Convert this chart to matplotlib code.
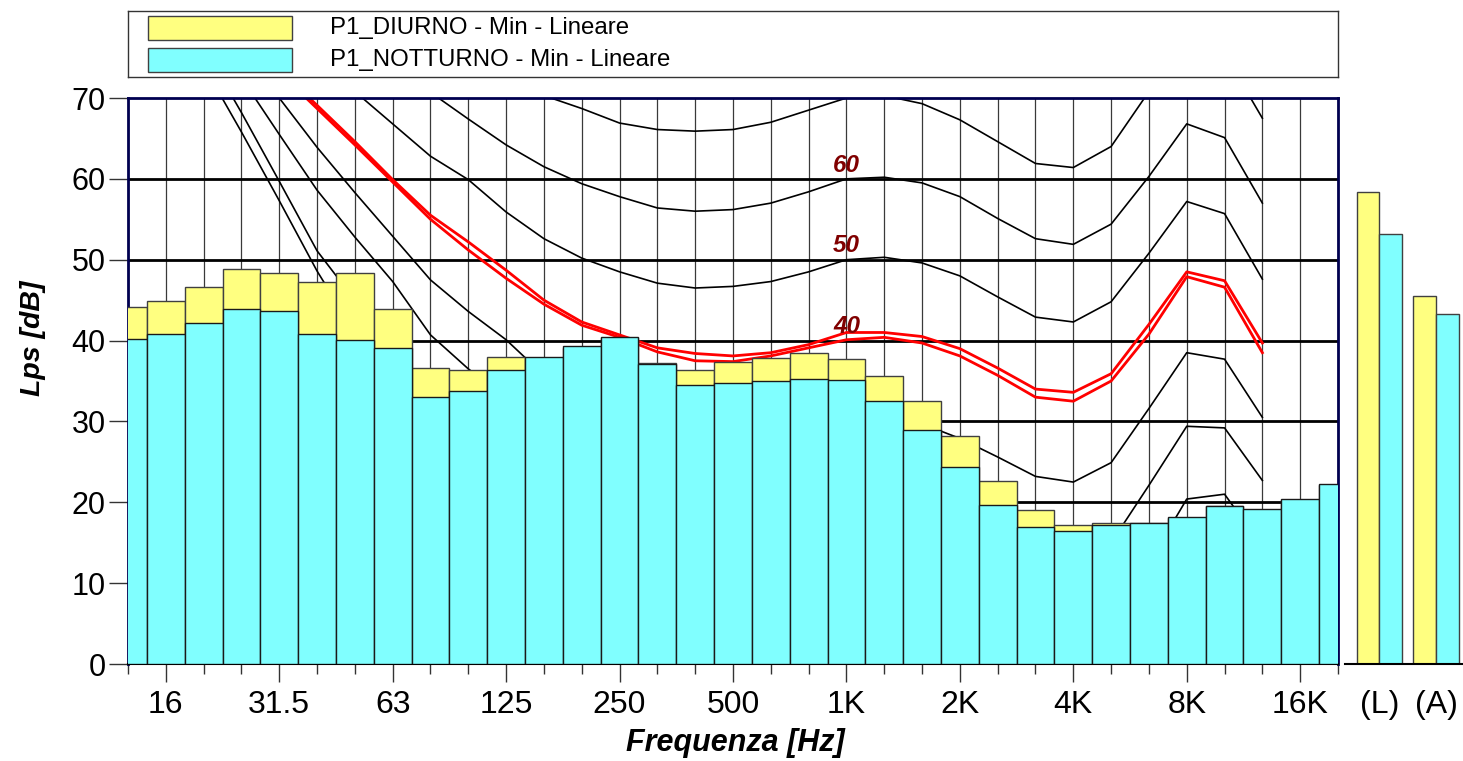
import numpy as np
import matplotlib
matplotlib.use('Agg')
import matplotlib.pyplot as plt
from matplotlib.patches import Rectangle
from matplotlib.ticker import NullFormatter

plt.rcParams['font.family'] = ['Liberation Sans', 'DejaVu Sans']

# Bande di terzo d'ottava 12.5 Hz - 20 kHz
bande = ['12.5', '16', '20', '25', '31.5', '40', '50', '63', '80', '100', '125', '160',
         '200', '250', '315', '400', '500', '630', '800', '1K', '1.25K', '1.6K', '2K',
         '2.5K', '3.15K', '4K', '5K', '6.3K', '8K', '10K', '12.5K', '16K', '20K']
freq = 10 ** (np.arange(11, 44) / 10)

# Livelli minimi per banda [dB]
diurno = [44.2, 44.9, 46.6, 48.9, 48.3, 47.3, 48.4, 43.9, 36.6, 36.3, 38.0, 37.8,
          39.1, 40.3, 37.2, 36.4, 37.3, 37.8, 38.5, 37.7, 35.6, 32.5, 28.2,
          22.6, 19.0, 17.2, 17.4, 17.4, 18.1, 19.5, 19.1, 20.3, 22.1]
notturno = [40.2, 40.8, 42.2, 43.9, 43.7, 40.8, 40.1, 39.1, 33.0, 33.8, 36.3, 38.0,
            39.3, 40.5, 37.1, 34.5, 34.8, 35.0, 35.3, 35.1, 32.5, 28.9, 24.4,
            19.7, 16.9, 16.5, 17.2, 17.5, 18.2, 19.6, 19.2, 20.4, 22.2]

# Livelli globali Lineare (L) e ponderato A
globali = ['(L)', '(A)']
glob_diurno = [58.4, 45.5]
glob_notturno = [53.2, 43.3]

# Isofoniche, 20 Hz - 12.5 kHz (nan = tratto nascosto dalle barre)
nan = np.nan
freq_iso = freq[2:31]
iso_soglia = [74.0, 65.8, 57.3, 48.6, 41.0] + [nan] * 24
iso_10 = [76.3, 68.2, 59.7, 51.1, 45.0] + [nan] * 20 + [12.5, 20.4, 21.0, 14.5]
iso_20 = [nan, 72.5, 65.5, 58.6, 52.8, 47.3, 40.7, 36.5, 33.0] + [nan] * 15 + \
         [15.0, 22.1, 29.4, 29.2, 22.7]
iso_30 = [nan, 76.0, 70.0, 63.9, 58.3, 52.9, 47.5, 43.6, 40.1, 35.7] + [nan] * 9 + \
         [29.7, 27.9, 25.6, 23.2, 22.5, 24.9, 31.6, 38.5, 37.7, 30.5]
iso_40a = [nan, nan, 73.5, 69.1, 64.6, 59.9, 55.5, 52.2, 48.7, 45.0, 42.3, 40.7, 39.1,
           38.4, 38.1, 38.5, 39.5, 41.0, 41.0, 40.5, 39.0, 36.6, 34.0, 33.6, 35.9,
           42.0, 48.5, 47.4, 39.7]
iso_40b = [nan, nan, 73.2, 68.7, 64.2, 59.6, 55.0, 51.2, 47.7, 44.5, 41.9, 40.4, 38.6,
           37.5, 37.4, 38.1, 39.1, 40.1, 40.4, 39.7, 38.1, 35.7, 33.0, 32.5, 35.0,
           40.8, 47.9, 46.6, 38.5]
iso_50 = [nan, nan, nan, 75.0, 70.8, 66.8, 62.8, 59.9, 55.9, 52.6, 50.2, 48.5, 47.1,
          46.5, 46.7, 47.3, 48.5, 50.0, 50.3, 49.6, 48.0, 45.4, 42.9, 42.3, 44.8,
          50.8, 57.2, 55.7, 47.6]
iso_60 = [nan, nan, nan, nan, nan, 75.0, 70.7, 67.4, 64.2, 61.5, 59.4, 57.8, 56.4,
          56.0, 56.2, 57.0, 58.4, 60.0, 60.2, 59.5, 57.8, 55.1, 52.6, 51.9, 54.4,
          60.3, 66.8, 65.1, 57.0]
iso_70 = [nan, nan, nan, nan, nan, nan, nan, nan, 73.5, 70.3, 68.7, 66.9, 66.1,
          65.9, 66.1, 67.0, 68.5, 70.0, 70.3, 69.3, 67.3, 64.6, 61.9, 61.4, 64.0,
          70.8, 76.5, 75.5, 67.5]
etichette_phon = [40, 50, 60]

W, H = 1463, 761
fig = plt.figure(figsize=(W / 100, H / 100), dpi=100)
ax = fig.add_axes([128 / W, 1 - 664 / H, 1210 / W, 566 / H])
ax.set_xscale('log')
ax.set_xlim(freq[0], freq[-1])
ax.set_ylim(0, 70)

# griglia
for f in freq:
    ax.axvline(f, color='#3a3a3a', lw=0.9, zorder=1)
for y in range(10, 70, 10):
    ax.axhline(y, color='black', lw=2, zorder=1)

# isofoniche
for curva in [iso_soglia, iso_10, iso_20, iso_30, iso_50, iso_60, iso_70]:
    ax.plot(freq_iso, curva, color='black', lw=1.2, zorder=2)
for curva in [iso_40a, iso_40b]:
    ax.plot(freq_iso, curva, color='#FF0000', lw=2.0, zorder=2)

# barre terzi d'ottava (notturno sopra diurno)
sx = freq * 10 ** -0.05
larg = freq * (10 ** 0.05 - 10 ** -0.05)
ax.bar(sx, diurno, width=larg, align='edge', color='#FFFF80', edgecolor='#404040', lw=1, zorder=3)
ax.bar(sx, notturno, width=larg, align='edge', color='#80FFFF', edgecolor='#1a1a1a', lw=1, zorder=4)

for p in etichette_phon:
    ax.text(1000, p + 0.9, str(p), color='#800000', fontsize=17.5, fontweight='bold',
            fontstyle='italic', ha='center', va='baseline', zorder=5)

ax.set_xticks(freq[1::3], labels=bande[1::3])
ax.set_xticks(freq, minor=True)
ax.xaxis.set_minor_formatter(NullFormatter())
ax.set_yticks(range(0, 71, 10))
ax.tick_params(axis='x', which='major', length=13, width=1, color='#333333', labelsize=23, pad=6)
ax.tick_params(axis='x', which='minor', length=7, width=1, color='#333333')
ax.tick_params(axis='y', length=14, width=1, color='#333333', labelsize=22, pad=2)
for lato in ['left', 'top', 'right']:
    ax.spines[lato].set_color('#000050')
    ax.spines[lato].set_linewidth(2)
ax.spines['bottom'].set_linewidth(1.5)

fig.text(33 / W, 1 - 338 / H, 'Lps [dB]', rotation=90, ha='center', va='center',
         fontsize=20.5, fontweight='bold', fontstyle='italic')
fig.text(735 / W, 1 - 743 / H, 'Frequenza [Hz]', ha='center', va='center',
         fontsize=22, fontweight='bold', fontstyle='italic')

# livelli globali
ax2 = fig.add_axes([1345 / W, 1 - 664 / H, 118 / W, 566 / H])
xg = np.arange(len(globali))
ax2.bar(xg - 0.2, glob_diurno, width=0.4, color='#FFFF80', edgecolor='#404040', lw=1)
ax2.bar(xg + 0.2, glob_notturno, width=0.4, color='#80FFFF', edgecolor='#404040', lw=1)
ax2.set_xlim(-0.61, 1.478)
ax2.set_ylim(0, 70)
ax2.set_xticks(xg, labels=globali)
ax2.set_yticks([])
ax2.tick_params(axis='x', length=0, labelsize=23, pad=19)
for lato in ['left', 'top', 'right']:
    ax2.spines[lato].set_visible(False)
ax2.spines['bottom'].set_linewidth(1.5)

# legenda
lax = fig.add_axes([128 / W, 1 - 77 / H, 1210 / W, 66 / H])
lax.set_xlim(0, 1210)
lax.set_ylim(66, 0)
lax.set_xticks([])
lax.set_yticks([])
for s in lax.spines.values():
    s.set_color('#333333')
    s.set_linewidth(1)
voci = ['P1_DIURNO - Min - Lineare', 'P1_NOTTURNO - Min - Lineare']
colori = ['#FFFF80', '#80FFFF']
for i, (voce, col) in enumerate(zip(voci, colori)):
    y0 = 5 + i * 32
    lax.add_patch(Rectangle((20, y0), 144, 24, facecolor=col, edgecolor='#404040', lw=1))
    lax.text(202, y0 + 12, voce, fontsize=17.3, ha='left', va='center')

fig.savefig('out.png', dpi=100)
